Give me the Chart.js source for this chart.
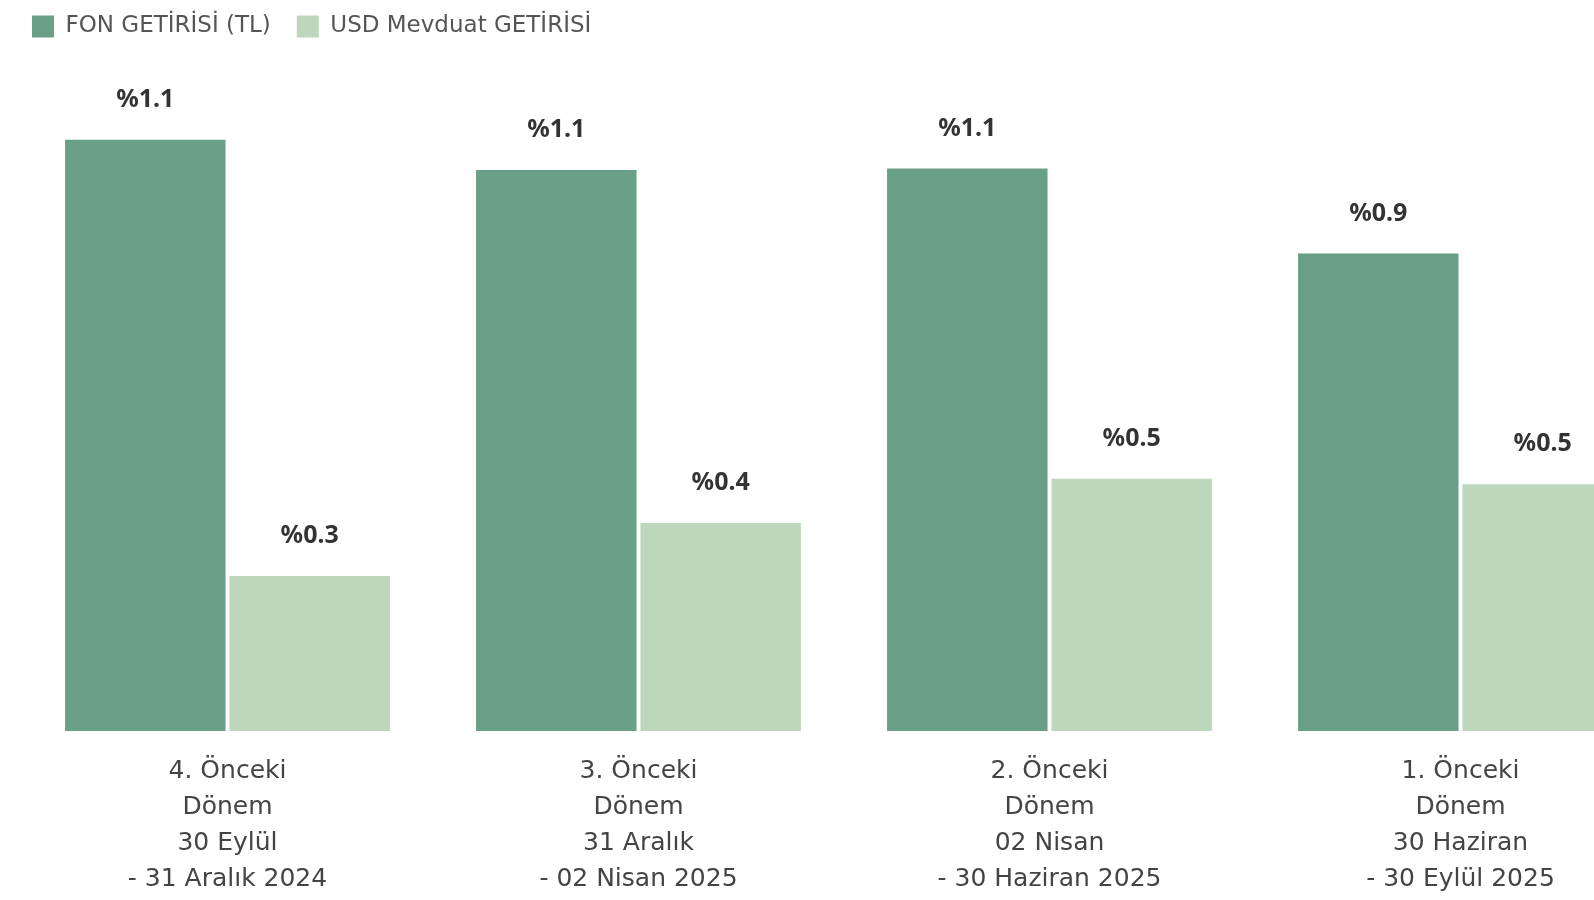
<!DOCTYPE html>
<html>
<head>
<meta charset="utf-8">
<script src="https://cdn.jsdelivr.net/npm/chart.js@4"></script>
<style>
  html, body { margin: 0; padding: 0; background: #fff; overflow: hidden; }
  #wrap { width: 1688px; height: 922px; position: relative; }
</style>
</head>
<body>
<div id="wrap"><canvas id="myChart"></canvas></div>
<script>
// donemler
var categories = [
  ["4. Önceki", "Dönem", "30 Eylül", "- 31 Aralık 2024"],
  ["3. Önceki", "Dönem", "31 Aralık", "- 02 Nisan 2025"],
  ["2. Önceki", "Dönem", "02 Nisan", "- 30 Haziran 2025"],
  ["1. Önceki", "Dönem", "30 Haziran", "- 30 Eylül 2025"]
];
var fonGetirisi = [1.148, 1.089, 1.092, 0.927];
var usdGetirisi = [0.301, 0.404, 0.490, 0.479];
var seriesNames = ["FON GETİRİSİ (TL)", "USD Mevduat GETİRİSİ"];

var FONT = "'DejaVu Sans', 'Noto Sans', sans-serif";
var LABEL_FONT = "'Noto Sans', 'DejaVu Sans', sans-serif";

// bar ustu etiketler
var valueLabels = {
  id: "valueLabels",
  afterLayout: function (chart) {
    // legend padding buyuk, sola cek
    chart.legend.left -= 16;
    chart.legend.top += 2;
  },
  afterDatasetsDraw: function (chart) {
    var ctx = chart.ctx;
    ctx.save();
    ctx.font = "bold 25px " + LABEL_FONT;
    ctx.fillStyle = "#333333";
    ctx.textAlign = "center";
    ctx.textBaseline = "middle";
    chart.data.datasets.forEach(function (ds, i) {
      var meta = chart.getDatasetMeta(i);
      meta.data.forEach(function (bar, j) {
        ctx.fillText("%" + ds.data[j].toFixed(1), bar.x, bar.y - 40);
      });
    });
    ctx.restore();
  }
};

var ctx = document.getElementById("myChart");
var myChart = new Chart(ctx, {
  type: "bar",
  data: {
    labels: categories,
    datasets: [
      {
        label: seriesNames[0],
        data: fonGetirisi,
        backgroundColor: "#6a9f87",
        barPercentage: 0.976,
        categoryPercentage: 0.8
      },
      {
        label: seriesNames[1],
        data: usdGetirisi,
        backgroundColor: "#bcd7bb",
        barPercentage: 0.976,
        categoryPercentage: 0.8
      }
    ]
  },
  options: {
    responsive: true,
    maintainAspectRatio: false,
    animation: false,
    layout: { padding: { left: 22, right: 22, top: -13, bottom: 2 } },
    plugins: {
      legend: {
        position: "top",
        align: "start",
        labels: {
          boxWidth: 22,
          boxHeight: 22,
          padding: 26,
          color: "#555555",
          font: { family: FONT, size: 23 }
        }
      },
      tooltip: { enabled: false }
    },
    scales: {
      x: {
        grid: { display: false, drawTicks: false },
        border: { display: false },
        ticks: {
          padding: 22,
          color: "#444444",
          font: { family: FONT, size: 25, lineHeight: 1.45 },
          maxRotation: 0
        }
      },
      y: {
        display: false,
        min: 0,
        max: 1.33
      }
    }
  },
  plugins: [valueLabels]
});
</script>
</body>
</html>
